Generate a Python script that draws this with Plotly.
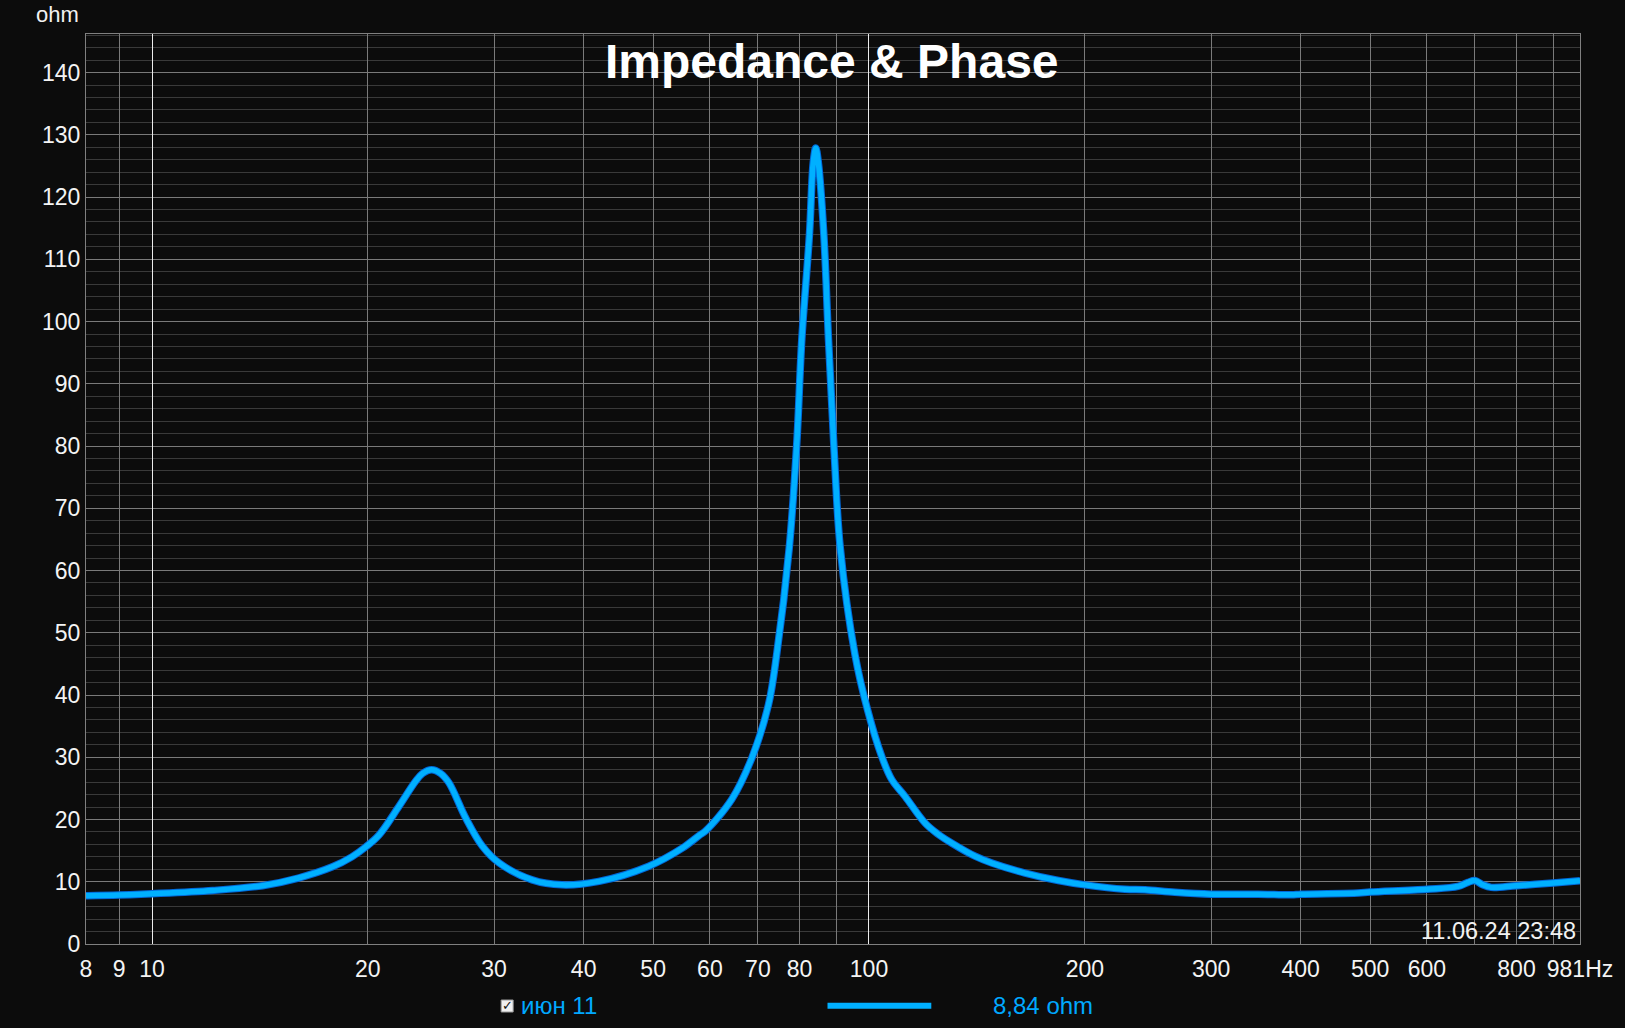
import math
import plotly.graph_objects as go

# ---------------- data ----------------
freq_hz = [8.09, 9, 10, 12.15, 14.26, 16.0, 17.85, 19.0, 19.87, 20.73, 22.1, 23.3, 23.84,
           24.55, 25.27, 25.95, 27.4, 28.9, 30.5, 33.9, 37.3, 42.0, 49.3, 54.9, 57.9, 59.2, 64.4,
           68.7, 72.4, 74.4, 77.4, 79.3, 80.6, 82.6, 83.6, 84.3, 85.0, 86.5, 87.8, 89.3,
           91.2, 95.6, 99.6, 104.2, 107.6, 112.3, 119.8, 125.0, 130.5, 140.6, 148.4, 165.1,
           183.7, 200.1, 227.6, 242.6, 267.1, 300.4, 349, 388.4, 400, 481, 500, 600, 663,
           684.6, 700, 718, 737.8, 800, 900, 981]
impedance_ohm = [7.75, 7.87, 8.08, 8.6, 9.37, 10.6, 12.4, 14.0, 15.6, 17.5, 22.1, 26.1, 27.4,
                 28.0, 27.4, 25.9, 20.2, 15.7, 13.0, 10.3, 9.5, 10.06, 12.5, 15.4, 17.4, 18.2, 23.3,
                 30.0, 38.4, 46.8, 63.6, 80.4, 97.2, 114.0, 125.5, 127.9, 125.5, 114.0, 97.2, 80.4,
                 63.6, 46.5, 37.5, 30.1, 26.4, 23.7, 19.4, 17.6, 16.2, 14.1, 13.0, 11.4,
                 10.2, 9.5, 8.8, 8.7, 8.3, 8.0, 8.0, 7.9, 8.0, 8.2, 8.35, 8.8, 9.25,
                 9.9, 10.2, 9.5, 9.1, 9.37, 9.8, 10.17]

# gray grid lines (with labels where present)
x_grid_vals = [8.09, 9, 20, 30, 40, 50, 60, 70, 80, 90, 200, 300, 400, 500,
               600, 700, 800, 900, 981]
x_grid_text = ["8", "9", "20", "30", "40", "50", "60", "70", "80", "", "200",
               "300", "400", "500", "600", "", "800", "", "981Hz"]
# bright decade grid lines
x_bright_vals = [10, 100]
x_bright_text = ["10", "100"]
y_tick_vals = list(range(0, 150, 10))

title_text = "Impedance & Phase"
y_unit = "ohm"
timestamp = "11.06.24 23:48"
legend_name = "июн 11"
legend_value = "8,84 ohm"

BG = "#0c0c0c"
LINE = "#00b0ff"
FONT = "Liberation Sans, Arial, sans-serif"

L, T, W, H = 86, 34, 1497, 910
BOTTOM = T + H
X_MIN, X_MAX = 8.09, 981
LO, HI = math.log10(X_MIN), math.log10(X_MAX)


def px(x):
    return (x - L) / W


def py(y):
    return (BOTTOM - y) / H


fig = go.Figure()

# darker edge of the curve (main axes)
fig.add_trace(go.Scatter(x=freq_hz, y=impedance_ohm, mode="lines",
                         line=dict(color="#0068d8", width=7.5, shape="spline", smoothing=1.0),
                         hoverinfo="skip", showlegend=False, xaxis="x", yaxis="y"))
# bright curve on the overlaid decade axis (drawn on top)
fig.add_trace(go.Scatter(x=freq_hz, y=impedance_ohm, mode="lines",
                         line=dict(color=LINE, width=5.5, shape="spline", smoothing=1.0),
                         name=legend_name, showlegend=False, xaxis="x2", yaxis="y"))

tickfont = dict(size=23, color="#f4f4f4", family=FONT)

fig.update_layout(
    width=1625, height=1028,
    margin=dict(l=L, r=1625 - L - W, t=T, b=1028 - BOTTOM),
    paper_bgcolor=BG, plot_bgcolor=BG,
    font=dict(family=FONT, color="#f2f2f2", size=23),
    showlegend=False,
    xaxis=dict(
        type="log", range=[LO, HI],
        tickmode="array", tickvals=x_grid_vals, ticktext=x_grid_text,
        showgrid=True, gridcolor="#7a7a7a", gridwidth=1,
        ticks="outside", ticklen=4, tickcolor=BG, tickfont=tickfont,
        showline=True, linecolor="#808080", linewidth=1, mirror=True,
        zeroline=False,
    ),
    xaxis2=dict(
        type="log", range=[LO, HI], overlaying="x", anchor="y", side="bottom",
        tickmode="array", tickvals=x_bright_vals, ticktext=x_bright_text,
        showgrid=True, gridcolor="#ececec", gridwidth=1,
        ticks="outside", ticklen=4, tickcolor=BG, tickfont=tickfont,
        showline=False, zeroline=False,
    ),
    yaxis=dict(
        range=[0, 146.2],
        tickmode="array", tickvals=y_tick_vals,
        showgrid=True, gridcolor="#7a7a7a", gridwidth=1,
        minor=dict(dtick=2, tick0=0, showgrid=True, gridcolor="#3a3a3a", gridwidth=1),
        ticks="", ticklen=0, tickfont=tickfont,
        showline=True, linecolor="#808080", linewidth=1, mirror=True,
        zeroline=False,
    ),
)

# title
fig.add_annotation(text=title_text, xref="paper", yref="paper", x=px(833.5),
                   y=py(61), xanchor="center", yanchor="middle", showarrow=False,
                   font=dict(size=48, color="#ffffff", family=FONT, weight="bold"))
# unit label
fig.add_annotation(text=y_unit, xref="paper", yref="paper", x=px(81),
                   y=py(14), xanchor="right", yanchor="middle", showarrow=False,
                   font=dict(size=22, color="#f2f2f2", family=FONT))
# timestamp
fig.add_annotation(text=timestamp, xref="paper", yref="paper", x=px(1581),
                   y=py(931), xanchor="right", yanchor="middle", showarrow=False,
                   font=dict(size=23.5, color="#f2f2f2", family=FONT))
# legend: checkbox
fig.add_shape(type="rect", xref="paper", yref="paper",
              x0=px(502), x1=px(514), y0=py(1000), y1=py(1012),
              fillcolor="#f0f0f0", line=dict(color="#9a9a9a", width=1))
fig.add_annotation(text="✓", xref="paper", yref="paper", x=px(508),
                   y=py(1005), xanchor="center", yanchor="middle", showarrow=False,
                   font=dict(size=13, color="#101010", family="DejaVu Sans"))
fig.add_annotation(text=legend_name, xref="paper", yref="paper", x=px(520),
                   y=py(1005), xanchor="left", yanchor="middle", showarrow=False,
                   font=dict(size=24, color="#00a8ff", family=FONT))
fig.add_shape(type="line", xref="paper", yref="paper",
              x0=px(829), x1=px(933), y0=py(1005.7), y1=py(1005.7),
              line=dict(color=LINE, width=6))
fig.add_annotation(text=legend_value, xref="paper", yref="paper", x=px(993),
                   y=py(1005), xanchor="left", yanchor="middle", showarrow=False,
                   font=dict(size=24, color="#00a8ff", family=FONT))

fig.write_html("out.html")
